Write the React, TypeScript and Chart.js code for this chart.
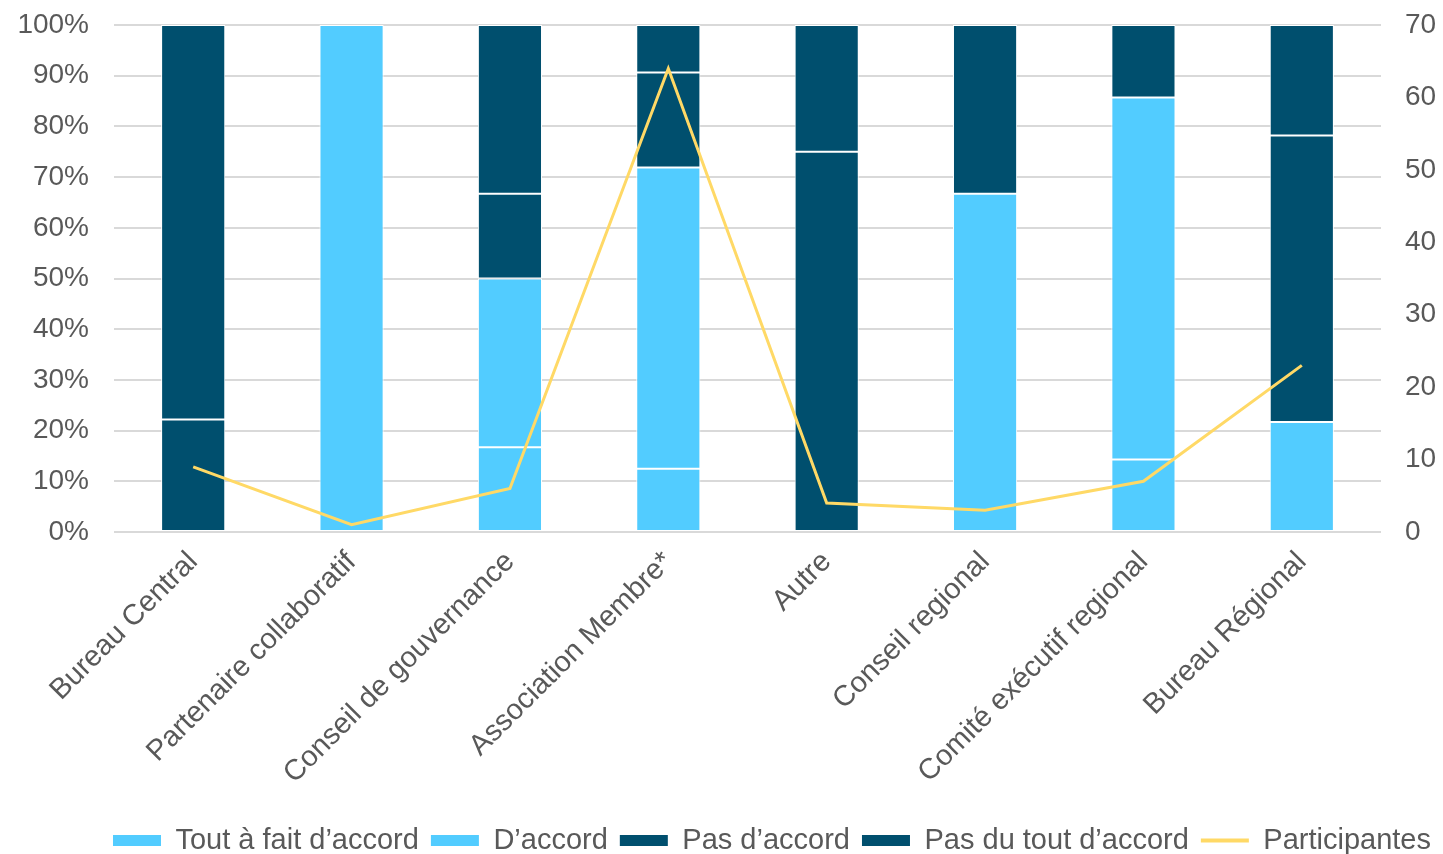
import React, { useEffect, useRef } from "react";
import { Chart, registerables } from "chart.js";

Chart.register(...registerables);

const categories = [
  "Bureau Central",
  "Partenaire collaboratif",
  "Conseil de gouvernance",
  "Association Membre*",
  "Autre",
  "Conseil regional",
  "Comité exécutif regional",
  "Bureau Régional",
];

const toutAFait = [null, null, 16.7, 12.5, null, null, 14.3, null];
const dAccord = [null, 100, 33.3, 59.4, null, 66.7, 71.4, 21.7];
const pasDAccord = [22.2, null, 16.7, 18.75, 75, 33.3, 14.3, 56.5];
const pasDuTout = [77.8, null, 33.3, 9.35, 25, null, null, 21.8];
const participantes = [9, 1, 6, 64, 4, 3, 7, 23];

const LIGHT = "#52CCFF";
const DARK = "#004F6E";
const YELLOW = "#FFD966";
const TEXT = "#595959";
const GRID = "#D9D9D9";
const FONT = "'Liberation Sans', Arial, sans-serif";

export default function App() {
  const ref = useRef<HTMLCanvasElement | null>(null);

  useEffect(() => {
    if (!ref.current) return;
    const barCommon = {
      type: "bar" as const,
      borderColor: "#FFFFFF",
      borderWidth: 1,
      borderSkipped: false,
      yAxisID: "y",
      barPercentage: 0.81,
      categoryPercentage: 0.5,
      stack: "s",
    };
    const chart = new Chart(ref.current, {
      type: "bar",
      data: {
        labels: categories,
        datasets: [
          { ...barCommon, label: "Tout à fait d’accord", data: toutAFait, backgroundColor: LIGHT, order: 2 },
          { ...barCommon, label: "D’accord", data: dAccord, backgroundColor: LIGHT, order: 2 },
          { ...barCommon, label: "Pas d’accord", data: pasDAccord, backgroundColor: DARK, order: 2 },
          { ...barCommon, label: "Pas du tout d’accord", data: pasDuTout, backgroundColor: DARK, order: 2 },
          {
            type: "line",
            label: "Participantes",
            data: participantes,
            borderColor: YELLOW,
            backgroundColor: YELLOW,
            borderWidth: 3,
            pointRadius: 0,
            tension: 0,
            yAxisID: "y1",
            order: 1,
          } as any,
        ],
      },
      options: {
        responsive: false,
        animation: false,
        devicePixelRatio: 1,
        layout: { padding: { top: 25, left: 0, right: 0, bottom: -11 } },
        plugins: {
          tooltip: { enabled: false },
          legend: {
            position: "bottom",
            align: "end",
            labels: {
              color: TEXT,
              font: { family: FONT, size: 29 },
              usePointStyle: true,
              pointStyleWidth: 48,
              boxHeight: 11,
              padding: 12,
              sort: (a: any, b: any) => a.datasetIndex - b.datasetIndex,
              generateLabels: (c: any) => {
                const items = Chart.defaults.plugins.legend.labels.generateLabels(c);
                return items.map((it: any) => {
                  if (it.datasetIndex === 4) {
                    return { ...it, pointStyle: "line", strokeStyle: YELLOW, lineWidth: 4, fillStyle: YELLOW };
                  }
                  return { ...it, pointStyle: "rect", lineWidth: 0, strokeStyle: "rgba(0,0,0,0)" };
                });
              },
            },
          },
        },
        scales: {
          x: {
            stacked: true,
            grid: { display: false },
            border: { display: false },
            ticks: {
              color: TEXT,
              font: { family: FONT, size: 29 },
              maxRotation: 45,
              minRotation: 45,
              padding: 5,
            },
            afterFit: (s: any) => {
              s.paddingLeft = 0;
              s.paddingRight = 0;
              s.height = 282;
            },
          },
          y: {
            stacked: true,
            min: 0,
            max: 100,
            position: "left",
            grid: { color: GRID, lineWidth: 2, drawTicks: false },
            border: { display: false },
            ticks: {
              stepSize: 10,
              color: TEXT,
              font: { family: FONT, size: 28 },
              padding: 25,
              callback: (v: any) => v + "%",
            },
            afterFit: (s: any) => {
              s.width = 114;
              s.paddingTop = 0;
              s.paddingBottom = 0;
            },
          },
          y1: {
            min: 0,
            max: 70,
            position: "right",
            grid: { display: false, drawTicks: false },
            border: { display: false },
            ticks: {
              stepSize: 10,
              color: TEXT,
              font: { family: FONT, size: 28 },
              padding: 24,
            },
            afterFit: (s: any) => {
              s.width = 62;
              s.paddingTop = 0;
              s.paddingBottom = 0;
            },
          },
        },
      } as any,
    });
    return () => chart.destroy();
  }, []);

  return (
    <div style={{ position: "fixed", left: 0, top: 0, width: 1443, height: 854, background: "#fff" }}>
      <canvas ref={ref} width={1443} height={854} style={{ display: "block" }} />
    </div>
  );
}
